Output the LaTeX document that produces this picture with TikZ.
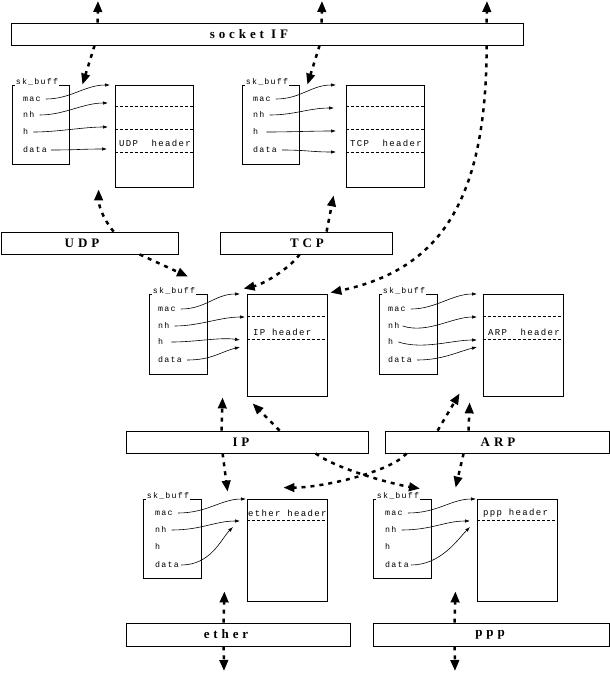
\documentclass[tikz,border=0pt]{standalone}
\usepackage{fontspec}
\setmainfont{Liberation Serif}
\newfontfamily\barfont[LetterSpace=30]{Liberation Serif}
\newfontfamily\fieldfont[LetterSpace=15]{Liberation Mono}
\newfontfamily\hdrfont[LetterSpace=15]{Liberation Mono}
\usetikzlibrary{arrows.meta}
\tikzset{
  bar/.style={draw, line width=0.8pt, inner sep=0pt},
  barlabel/.style={font=\barfont\bfseries\fontsize{13}{13}\selectfont, inner sep=0pt},
  box/.style={draw, line width=0.8pt, inner sep=0pt},
  sklab/.style={font=\fieldfont\fontsize{8.3}{8.3}\selectfont, fill=white, inner sep=1pt, anchor=base west},
  field/.style={font=\fieldfont\fontsize{8.3}{8.3}\selectfont, inner sep=0pt, anchor=west, text height=5pt, text depth=1pt},
  hdr/.style={font=\hdrfont\fontsize{9}{9}\selectfont, inner sep=0pt, anchor=west},
  hdash/.style={line width=0.6pt, dash pattern=on 3pt off 2pt},
  sarr/.style={line width=0.6pt, -{Latex[length=5pt,width=3.5pt]}},
  darr/.style={line width=2.5pt, dash pattern=on 4pt off 5pt, -{Triangle[length=11pt,width=8.5pt]}}
}
\begin{document}
\begin{tikzpicture}[x=1pt,y=-1pt]
\useasboundingbox (0,0) rectangle (610,675);

% ---------- bars ----------
\node[bar, minimum width=512pt, minimum height=22pt] (sock) at (267,34) {};
\node[barlabel] (sockt) at (249,34) {socket IF};
\node[bar, minimum width=177pt, minimum height=22pt] (udp) at (89.5,243) {};
\node[barlabel] (udpt) at (82,243) {UDP};
\node[bar, minimum width=172pt, minimum height=22pt] (tcp) at (306,243) {};
\node[barlabel] (tcpt) at (307,243) {TCP};
\node[bar, minimum width=242pt, minimum height=22pt] (ip) at (247,442) {};
\node[barlabel] (ipt) at (241,442) {IP};
\node[bar, minimum width=224pt, minimum height=22pt] (arp) at (497,442) {};
\node[barlabel] (arpt) at (498,442) {ARP};
\node[bar, minimum width=224pt, minimum height=23pt] (eth) at (238,634.5) {};
\node[barlabel] (etht) at (226,634.5) {ether};
\node[bar, minimum width=236pt, minimum height=23pt] (ppp) at (491,634.5) {};
\node[barlabel] (pppt) at (490,634.5) {ppp};

% ---------- block 1 (UDP) ----------
\node[box, minimum width=57pt, minimum height=79pt] (sk1) at (40.5,124.5) {};
\node[sklab] (sl1) at ([xshift=3pt,yshift=0.5pt]sk1.north west) {sk\_buff};
\node[box, minimum width=78pt, minimum height=102pt] (hd1) at (154,136) {};
\draw[hdash] ([yshift=-22pt]hd1.north west) -- ([yshift=-22pt]hd1.north east);
\draw[hdash] ([yshift=-45pt]hd1.north west) -- ([yshift=-45pt]hd1.north east);
\draw[hdash] ([yshift=-68pt]hd1.north west) -- ([yshift=-68pt]hd1.north east);
\node[hdr] (ht1) at (119,143.5) {UDP\ \ header};
\node[field] (m1) at (23,99) {mac};
\node[field] (n1) at (23,115) {nh};
\node[field] (h1) at (23,132) {h};
\node[field] (d1) at (23,150) {data};
\coordinate (m1e) at (110,85);
\coordinate (n1e) at (108,103);
\coordinate (h1e) at (108,127);
\coordinate (d1e) at (107,149);
\draw[sarr] ([xshift=5pt]m1.east) .. controls +(25,0) and +(-25,0) .. (m1e);
\draw[sarr] ([xshift=5pt]n1.east) .. controls +(25,0) and +(-25,0) .. (n1e);
\draw[sarr] ([xshift=5pt]h1.east) .. controls +(25,0) and +(-25,0) .. (h1e);
\draw[sarr] ([xshift=4pt]d1.east) .. controls +(25,0) and +(-25,0) .. (d1e);

% ---------- block 2 (TCP) ----------
\node[box, minimum width=57pt, minimum height=79pt] (sk2) at (270.5,124.5) {};
\node[sklab] (sl2) at ([xshift=3pt,yshift=0.5pt]sk2.north west) {sk\_buff};
\node[box, minimum width=78pt, minimum height=102pt] (hd2) at (385,136) {};
\draw[hdash] ([yshift=-22pt]hd2.north west) -- ([yshift=-22pt]hd2.north east);
\draw[hdash] ([yshift=-45pt]hd2.north west) -- ([yshift=-45pt]hd2.north east);
\draw[hdash] ([yshift=-68pt]hd2.north west) -- ([yshift=-68pt]hd2.north east);
\node[hdr] (ht2) at (350,143.5) {TCP\ \ header};
\node[field] (m2) at (253,99) {mac};
\node[field] (n2) at (253,115) {nh};
\node[field] (h2) at (253,132) {h};
\node[field] (d2) at (253,150) {data};
\coordinate (m2e) at (336,85);
\coordinate (n2e) at (334,108);
\coordinate (h2e) at (336,131);
\coordinate (d2e) at (336,152);
\draw[sarr] ([xshift=5pt]m2.east) .. controls +(25,0) and +(-25,0) .. (m2e);
\draw[sarr] ([xshift=5pt]n2.east) .. controls +(25,0) and +(-25,0) .. (n2e);
\draw[sarr] ([xshift=8pt]h2.east) .. controls +(25,0) and +(-25,0) .. (h2e);
\draw[sarr] ([xshift=5pt]d2.east) .. controls +(25,0) and +(-25,0) .. (d2e);

% ---------- block 3 (IP) ----------
\node[box, minimum width=58pt, minimum height=80pt] (sk3) at (178,334) {};
\node[sklab] (sl3) at ([xshift=3pt,yshift=0.5pt]sk3.north west) {sk\_buff};
\node[box, minimum width=80pt, minimum height=102pt] (hd3) at (287,345) {};
\draw[hdash] ([yshift=-23pt]hd3.north west) -- ([yshift=-23pt]hd3.north east);
\draw[hdash] ([yshift=-46pt]hd3.north west) -- ([yshift=-46pt]hd3.north east);
\node[hdr] (ht3) at (253,332) {IP\ header};
\node[field] (m3) at (158,309) {mac};
\node[field] (n3) at (158,326) {nh};
\node[field] (h3) at (158,342) {h};
\node[field] (d3) at (158,360) {data};
\coordinate (m3e) at (240,294);
\coordinate (n3e) at (245,317);
\coordinate (h3e) at (240,340);
\coordinate (d3e) at (240,347);
\draw[sarr] ([xshift=5pt]m3.east) .. controls +(25,0) and +(-25,0) .. (m3e);
\draw[sarr] ([xshift=5pt]n3.east) .. controls +(25,0) and +(-25,0) .. (n3e);
\draw[sarr] ([xshift=8pt]h3.east) .. controls +(25,0) and +(-20,-3) .. (h3e);
\draw[sarr] ([xshift=5pt]d3.east) .. controls +(25,0) and +(-20,5) .. (d3e);

% ---------- block 4 (ARP) ----------
\node[box, minimum width=58pt, minimum height=80pt] (sk4) at (408,334) {};
\node[sklab] (sl4) at ([xshift=3pt,yshift=0.5pt]sk4.north west) {sk\_buff};
\node[box, minimum width=80pt, minimum height=102pt] (hd4) at (523,345) {};
\draw[hdash] ([yshift=-23pt]hd4.north west) -- ([yshift=-23pt]hd4.north east);
\draw[hdash] ([yshift=-46pt]hd4.north west) -- ([yshift=-46pt]hd4.north east);
\node[hdr] (ht4) at (488,332) {ARP\ \ header};
\node[field] (m4) at (388,309) {mac};
\node[field] (n4) at (388,326) {nh};
\node[field] (h4) at (388,342) {h};
\node[field] (d4) at (388,360) {data};
\coordinate (m4e) at (477,294);
\coordinate (n4e) at (477,317);
\coordinate (h4e) at (477,340);
\coordinate (d4e) at (477,347);
\draw[sarr] ([xshift=5pt]m4.east) .. controls +(25,0) and +(-25,0) .. (m4e);
\draw[sarr] ([xshift=3pt]n4.east) .. controls +(25,8) and +(-25,0) .. (n4e);
\draw[sarr] ([xshift=5pt]h4.east) .. controls +(25,8) and +(-25,0) .. (h4e);
\draw[sarr] ([xshift=5pt]d4.east) .. controls +(25,0) and +(-20,5) .. (d4e);

% ---------- block 5 (ether) ----------
\node[box, minimum width=58pt, minimum height=79pt] (sk5) at (172,538.5) {};
\node[sklab] (sl5) at ([xshift=3pt,yshift=0.5pt]sk5.north west) {sk\_buff};
\node[box, minimum width=80pt, minimum height=102pt] (hd5) at (287,550) {};
\draw[hdash] ([yshift=-22pt]hd5.north west) -- ([yshift=-22pt]hd5.north east);
\node[hdr] (ht5) at (248,513.5) {ether header};
\node[field] (m5) at (155,513) {mac};
\node[field] (n5) at (155,530) {nh};
\node[field] (h5) at (155,547) {h};
\node[field] (d5) at (155,565) {data};
\coordinate (m5e) at (246,499);
\coordinate (n5e) at (240,521);
\coordinate (d5e) at (233,527);
\draw[sarr] ([xshift=5pt]m5.east) .. controls +(30,0) and +(-25,0) .. (m5e);
\draw[sarr] ([xshift=5pt]n5.east) .. controls +(30,0) and +(-25,0) .. (n5e);
\draw[sarr] ([xshift=2pt]d5.east) .. controls +(30,0) and +(-12,12) .. (d5e);

% ---------- block 6 (ppp) ----------
\node[box, minimum width=58pt, minimum height=79pt] (sk6) at (402,538.5) {};
\node[sklab] (sl6) at ([xshift=3pt,yshift=0.5pt]sk6.north west) {sk\_buff};
\node[box, minimum width=80pt, minimum height=102pt] (hd6) at (517,550) {};
\draw[hdash] ([yshift=-22pt]hd6.north west) -- ([yshift=-22pt]hd6.north east);
\node[hdr] (ht6) at (483,513.5) {ppp header};
\node[field] (m6) at (385,513) {mac};
\node[field] (n6) at (385,530) {nh};
\node[field] (h6) at (385,547) {h};
\node[field] (d6) at (385,565) {data};
\coordinate (m6e) at (476,499);
\coordinate (n6e) at (470,521);
\coordinate (d6e) at (470,527);
\draw[sarr] ([xshift=5pt]m6.east) .. controls +(30,0) and +(-25,0) .. (m6e);
\draw[sarr] ([xshift=5pt]n6.east) .. controls +(30,0) and +(-25,0) .. (n6e);
\draw[sarr] ([xshift=2pt]d6.east) .. controls +(30,0) and +(-12,12) .. (d6e);

% ---------- free ends ----------
\coordinate (top1) at (98,1);
\coordinate (top2) at (322,1);
\coordinate (top3) at (487,1);
\coordinate (bot1) at (224,671);
\coordinate (bot2) at (455,671);

% ---------- dashed connectors ----------
\draw[darr] ([xshift=87pt]sock.north west) -- (top1);
\draw[darr] ([xshift=311pt]sock.north west) -- (top2);
\draw[darr] ([xshift=476pt]sock.north west) -- (top3);
\draw[darr] ([xshift=84pt]sock.south west) -- ([xshift=13pt]sk1.north east);
\draw[darr] ([xshift=309pt]sock.south west) -- ([xshift=8pt]sk2.north east);
\draw[darr] ([xshift=476pt]sock.south west) .. controls +(0,155) and +(110,-23) .. ([xshift=3pt,yshift=1pt]hd3.north east);

\draw[darr] ([xshift=113pt]udp.north west) .. controls +(-12,-15) and +(0,15) .. ([xshift=-16pt,yshift=-2pt]hd1.south west);
\draw[darr] ([xshift=139pt]udp.south west) -- ([xshift=10pt,yshift=17pt]sk3.north);
\draw[darr] ([xshift=107pt]tcp.north west) -- ([xshift=-12pt,yshift=-8pt]hd2.south west);
\draw[darr] ([xshift=80pt]tcp.south west) .. controls +(-8,12) and +(22,-5) .. ([xshift=-3pt,yshift=5pt]hd3.north west);

\draw[darr] ([xshift=96pt]ip.north west) -- ([xshift=-24pt,yshift=-1pt]hd3.south west);
\draw[darr] ([xshift=154pt]ip.north west) -- ([xshift=6pt,yshift=-7pt]hd3.south west);
\draw[darr] ([xshift=97pt]ip.south west) -- ([xshift=-19pt,yshift=7pt]hd5.north west);
\draw[darr] ([xshift=190pt]ip.south west) .. controls +(20,15) and +(-30,-5) .. ([xshift=18pt,yshift=10pt]sk6.north);

\draw[darr] ([xshift=22pt]arp.south west) .. controls +(-15,18) and +(40,0) .. ([xshift=-44pt,yshift=11pt]hd5.north east);
\draw[darr] ([xshift=53pt]arp.north west) -- ([xshift=-23pt,yshift=3pt]hd4.south west);
\draw[darr] ([xshift=84pt]arp.north west) -- ([xshift=-13pt,yshift=-6pt]hd4.south west);
\draw[darr] ([xshift=79pt]arp.south west) -- ([xshift=-21pt,yshift=11pt]hd6.north west);

\draw[darr] ([xshift=98pt]eth.north west) -- ([xshift=23pt,yshift=-13pt]sk5.south east);
\draw[darr] ([xshift=98pt]eth.south west) -- (bot1);
\draw[darr] ([xshift=82pt]ppp.north west) -- ([xshift=24pt,yshift=-13pt]sk6.south east);
\draw[darr] ([xshift=82pt]ppp.south west) -- (bot2);
\end{tikzpicture}
\end{document}
